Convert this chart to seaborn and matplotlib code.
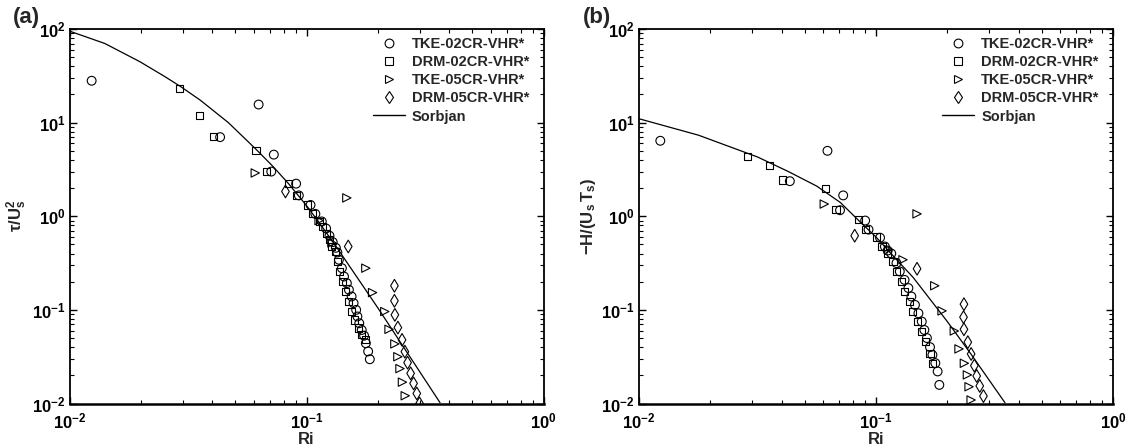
import numpy as np
import pandas as pd
import matplotlib
matplotlib.use("Agg")
import matplotlib.pyplot as plt
import seaborn as sns
from matplotlib.lines import Line2D
from matplotlib.ticker import LogLocator, NullFormatter

# ---------------- data: panel (a) tau/U_s^2 ----------------
a_tke02_ri = [0.0124, 0.0432, 0.0628, 0.0728, 0.071, 0.0904, 0.0928, 0.104, 0.109, 0.116, 0.121, 0.125, 0.129, 0.133,
              0.135, 0.137, 0.141, 0.144, 0.148, 0.151, 0.155, 0.158, 0.162, 0.164, 0.167, 0.171, 0.175, 0.178, 0.182, 0.185]
a_tke02_v = [28, 7.0, 15.6, 4.55, 3.0, 2.23, 1.67, 1.32, 1.06, 0.88, 0.74, 0.62, 0.53, 0.46,
             0.41, 0.343, 0.279, 0.227, 0.193, 0.164, 0.139, 0.118, 0.100, 0.085, 0.072, 0.061, 0.053, 0.044, 0.036, 0.0297]
a_drm02_ri = [0.029, 0.0353, 0.0406, 0.0612, 0.068, 0.0841, 0.0907, 0.101, 0.106, 0.113, 0.117, 0.121, 0.125, 0.128,
              0.132, 0.135, 0.138, 0.142, 0.146, 0.150, 0.155, 0.160, 0.166, 0.171, 0.177]
a_drm02_v = [23, 12, 7.1, 5.06, 3.0, 2.24, 1.67, 1.32, 1.06, 0.88, 0.78, 0.66, 0.56, 0.48,
             0.42, 0.33, 0.257, 0.201, 0.157, 0.123, 0.096, 0.078, 0.064, 0.054, 0.048]
a_tke05_ri = [0.0608, 0.113, 0.128, 0.148, 0.178, 0.19, 0.214, 0.223, 0.236, 0.243, 0.248, 0.254, 0.261]
a_tke05_v = [2.9, 0.9, 0.52, 1.57, 0.279, 0.153, 0.096, 0.062, 0.0433, 0.0316, 0.0236, 0.0169, 0.0121]
a_drm05_ri = [0.0815, 0.150, 0.235, 0.235, 0.236, 0.243, 0.253, 0.26, 0.267, 0.275, 0.283, 0.292, 0.30]
a_drm05_v = [1.84, 0.475, 0.181, 0.125, 0.0885, 0.0647, 0.0478, 0.0358, 0.0273, 0.021, 0.0164, 0.0128, 0.0100]
a_sorb_ri = [0.01, 0.0141, 0.0198, 0.0251, 0.0292, 0.0356, 0.0468, 0.0612, 0.0724, 0.0841, 0.1, 0.1148, 0.134,
             0.2, 0.366]
a_sorb_v = [95, 70, 44.8, 31.3, 24.6, 17.4, 10.0, 5.2, 3.38, 2.22, 1.30, 0.81, 0.467, 0.105, 0.0102]

# ---------------- data: panel (b) -H/(U_s T_s) ----------------
b_tke02_ri = [0.0123, 0.0433, 0.0624, 0.0727, 0.0705, 0.090, 0.093, 0.104, 0.109, 0.112,
              0.116, 0.122, 0.126, 0.132, 0.137, 0.141, 0.146, 0.151, 0.156, 0.160, 0.164, 0.169, 0.173, 0.178, 0.182, 0.185]
b_tke02_v = [6.4, 2.37, 5.0, 1.67, 1.16, 0.90, 0.72, 0.59, 0.475, 0.43,
             0.40, 0.316, 0.257, 0.209, 0.171, 0.139, 0.113, 0.092, 0.075, 0.061, 0.050, 0.040, 0.033, 0.027, 0.022, 0.0158]
b_drm02_ri = [0.0288, 0.0354, 0.0404, 0.0611, 0.0678, 0.0841, 0.0905, 0.1007, 0.106, 0.112,
              0.118, 0.122, 0.128, 0.132, 0.138, 0.143, 0.149, 0.156, 0.162, 0.169, 0.173]
b_drm02_v = [4.3, 3.49, 2.44, 1.99, 1.17, 0.93, 0.72, 0.60, 0.475, 0.40,
             0.33, 0.257, 0.201, 0.157, 0.123, 0.096, 0.075, 0.0586, 0.0458, 0.0344, 0.027]
b_tke05_ri = [0.0605, 0.113, 0.130, 0.149, 0.177, 0.19, 0.214, 0.224, 0.236, 0.243, 0.247, 0.252]
b_tke05_v = [1.35, 0.44, 0.343, 1.06, 0.181, 0.0975, 0.0595, 0.0383, 0.0269, 0.0202, 0.0151, 0.0109]
b_drm05_ri = [0.0813, 0.149, 0.235, 0.234, 0.235, 0.244, 0.252, 0.26, 0.266, 0.274, 0.284]
b_drm05_v = [0.62, 0.275, 0.115, 0.0836, 0.062, 0.0452, 0.0338, 0.0254, 0.0197, 0.0154, 0.012]
b_sorb_ri = [0.01, 0.0178, 0.0316, 0.0427, 0.0562, 0.0708, 0.0857, 0.1, 0.122, 0.1435, 0.2, 0.25, 0.35]
b_sorb_v = [11.0, 7.35, 4.3, 3.0, 2.1, 1.4, 0.87, 0.6, 0.345, 0.222, 0.075, 0.0345, 0.0102]

labels = ["TKE-02CR-VHR*", "DRM-02CR-VHR*", "TKE-05CR-VHR*", "DRM-05CR-VHR*", "Sorbjan"]

# ---------------- style ----------------
sns.set_style("ticks")
plt.rcParams["font.family"] = ["Liberation Sans", "DejaVu Sans"]
plt.rcParams["font.weight"] = "bold"
plt.rcParams["mathtext.fontset"] = "custom"
plt.rcParams["mathtext.rm"] = "Liberation Sans:bold"
plt.rcParams["mathtext.it"] = "Liberation Sans:bold"
plt.rcParams["mathtext.bf"] = "Liberation Sans:bold"
plt.rcParams["mathtext.default"] = "regular"

fig = plt.figure(figsize=(11.29, 4.48), dpi=100)
ax_a = fig.add_axes([69.5 / 1129, 44.5 / 448, 474 / 1129, 374.5 / 448])
ax_b = fig.add_axes([639 / 1129, 44.5 / 448, 474 / 1129, 374.5 / 448])

markers = ["o", "s", ">", "d"]
msizes = [40, 26, 36, 42]


def draw(ax, series, sorb_ri, sorb_v, ylabel):
    ax.set_xscale("log")
    ax.set_yscale("log")
    for (ri, v), m, s in zip(series, markers, msizes):
        sns.scatterplot(x=ri, y=v, marker=m, s=s, fc="none", ec="black",
                        linewidth=0.8, ax=ax, legend=False, zorder=3)
    sns.lineplot(x=sorb_ri, y=sorb_v, color="black", linewidth=0.9, ax=ax,
                 legend=False, zorder=2)
    ax.set_xlim(0.01, 1)
    ax.set_ylim(0.01, 100)
    ax.set_xlabel("Ri", fontsize=12, fontweight="bold", labelpad=0)
    ax.set_ylabel(ylabel, fontsize=12, fontweight="bold", labelpad=2)
    for side in ["top", "right", "left"]:
        ax.spines[side].set_linewidth(1.3)
        ax.spines[side].set_color("black")
    ax.spines["bottom"].set_linewidth(1.8)
    ax.spines["bottom"].set_color("black")
    ax.xaxis.set_major_locator(LogLocator(base=10, numticks=10))
    ax.yaxis.set_major_locator(LogLocator(base=10, numticks=10))
    ax.xaxis.set_minor_locator(LogLocator(base=10, subs=np.arange(2, 10), numticks=20))
    ax.yaxis.set_minor_locator(LogLocator(base=10, subs=np.arange(2, 10), numticks=20))
    ax.xaxis.set_minor_formatter(NullFormatter())
    ax.yaxis.set_minor_formatter(NullFormatter())
    ax.tick_params(which="both", direction="in", top=True, right=True, colors="black",
                   labelsize=12)
    ax.tick_params(which="major", length=5, width=1)
    ax.tick_params(which="minor", length=3, width=0.8)
    ax.tick_params(axis="x", pad=6)
    ax.tick_params(axis="y", pad=3)
    for lbl in ax.get_xticklabels() + ax.get_yticklabels():
        lbl.set_fontweight("bold")

    handles = []
    for m, s in zip(markers, msizes):
        handles.append(Line2D([], [], marker=m, ls="none", mfc="none", mec="black",
                              mew=0.8, ms=np.sqrt(s)))
    handles.append(Line2D([], [], color="black", lw=1))
    leg = ax.legend(handles, labels, loc="upper right", bbox_to_anchor=(0.973, 0.982),
                    frameon=False, fontsize=10.5, handlelength=2.2, handletextpad=0.48,
                    labelspacing=0.28, borderaxespad=0, borderpad=0.1)
    for t in leg.get_texts():
        t.set_fontweight("bold")


draw(ax_a,
     [(a_tke02_ri, a_tke02_v), (a_drm02_ri, a_drm02_v), (a_tke05_ri, a_tke05_v), (a_drm05_ri, a_drm05_v)],
     a_sorb_ri, a_sorb_v, r"$\tau/U_s^2$")
draw(ax_b,
     [(b_tke02_ri, b_tke02_v), (b_drm02_ri, b_drm02_v), (b_tke05_ri, b_tke05_v), (b_drm05_ri, b_drm05_v)],
     b_sorb_ri, b_sorb_v, r"$-H/(U_s\,T_s)$")

fig.text(13 / 1129, 0.962, "(a)", fontsize=16, fontweight="bold", va="center", ha="left")
fig.text(583 / 1129, 0.962, "(b)", fontsize=16, fontweight="bold", va="center", ha="left")

fig.savefig("out.png", dpi=100)
